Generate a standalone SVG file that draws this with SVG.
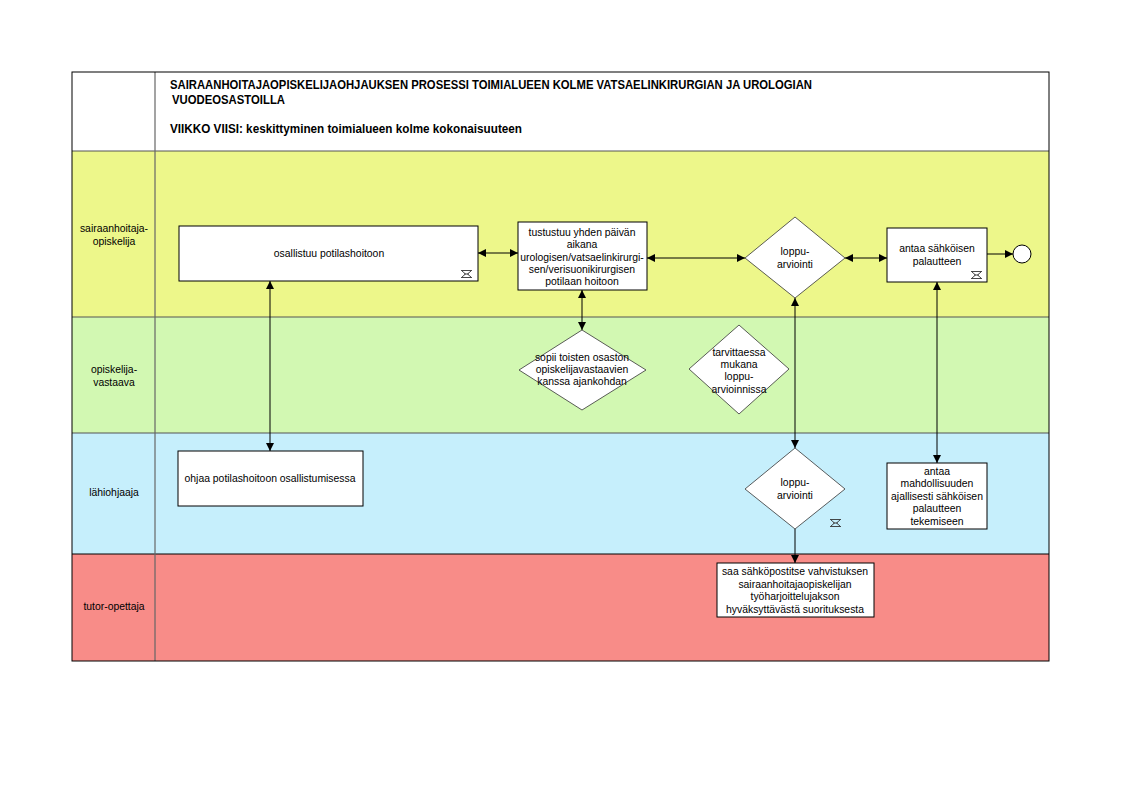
<svg xmlns="http://www.w3.org/2000/svg" xmlns:xlink="http://www.w3.org/1999/xlink" width="1122" height="794" viewBox="0 0 1122 794">
<style>
.t{font-family:"Liberation Sans",Arial,sans-serif;font-size:10.4px;fill:#000;text-anchor:middle}
.h{font-family:"Liberation Sans",Arial,sans-serif;font-size:12px;font-weight:bold;fill:#000}
.box{fill:#fff;stroke:#000;stroke-width:1}
.dia{fill:#fff;stroke:#333;stroke-width:0.8}
.c{stroke:#000;stroke-width:1;fill:none}
.b{marker-start:url(#a);marker-end:url(#a)}
.e{marker-end:url(#a)}
.ic{fill:none;stroke:#333;stroke-width:0.9}
</style>
<defs>
<marker id="a" viewBox="0 0 8 8" refX="8" refY="4" markerWidth="8" markerHeight="8" markerUnits="userSpaceOnUse" orient="auto-start-reverse">
<path d="M0,0 L8,4 L0,8 z" fill="#000"/>
</marker>
<g id="icon">
<path class="ic" d="M0,0.5 h11 M0,7.5 h11 M1,1 L4.5,4 L1,7 M10,1 L6.5,4 L10,7 M3,4 h5"/>
</g>
</defs>
<rect x="0" y="0" width="1122" height="794" fill="#fff"/>
<g id="lanes">
<rect x="72" y="72" width="977" height="79" fill="#fff"/>
<rect x="72" y="151" width="977" height="166" fill="#EDF78A"/>
<rect x="72" y="317" width="977" height="116" fill="#D2F8B2"/>
<rect x="72" y="433" width="977" height="121" fill="#C6EFFC"/>
<rect x="72" y="554" width="977" height="107" fill="#F88C88"/>
<line x1="72" y1="151" x2="1049" y2="151" stroke="#555" stroke-width="1"/>
<line x1="72" y1="317" x2="1049" y2="317" stroke="#555" stroke-width="1"/>
<line x1="72" y1="433" x2="1049" y2="433" stroke="#555" stroke-width="1"/>
<line x1="72" y1="554" x2="1049" y2="554" stroke="#000" stroke-width="1"/>
<line x1="155" y1="72" x2="155" y2="661" stroke="#666" stroke-width="1.2"/>
<rect x="72" y="72" width="977" height="589" fill="none" stroke="#000" stroke-width="1"/>
<text class="t" x="114" y="232">sairaanhoitaja-</text>
<text class="t" x="114" y="245">opiskelija</text>
<text class="t" x="114" y="373">opiskelija-</text>
<text class="t" x="114" y="386">vastaava</text>
<text class="t" x="114" y="496">lähiohjaaja</text>
<text class="t" x="114" y="610">tutor-opettaja</text>
</g>
<g id="title">
<text class="h" x="170" y="89" textLength="642" lengthAdjust="spacingAndGlyphs">SAIRAANHOITAJAOPISKELIJAOHJAUKSEN PROSESSI TOIMIALUEEN KOLME VATSAELINKIRURGIAN JA UROLOGIAN</text>
<text class="h" x="172" y="104" textLength="113" lengthAdjust="spacingAndGlyphs">VUODEOSASTOILLA</text>
<text class="h" x="170" y="133" textLength="352" lengthAdjust="spacingAndGlyphs">VIIKKO VIISI: keskittyminen toimialueen kolme kokonaisuuteen</text>
</g>
<g id="connectors">
<line class="c b" x1="270" y1="281" x2="270" y2="451"/>
<line class="c b" x1="478" y1="253" x2="518" y2="253"/>
<line class="c b" x1="582" y1="290" x2="582" y2="330"/>
<line class="c b" x1="647" y1="258" x2="745" y2="258"/>
<line class="c b" x1="845" y1="258" x2="887" y2="258"/>
<line class="c e" x1="987" y1="254" x2="1013" y2="254"/>
<line class="c b" x1="795" y1="298" x2="795" y2="448"/>
<line class="c b" x1="937" y1="282" x2="937" y2="463"/>
<line class="c e" x1="795" y1="529" x2="795" y2="563"/>
</g>
<g id="n-osallistuu">
<rect class="box" x="179" y="226" width="299" height="55"/>
<text class="t" x="329" y="257">osallistuu potilashoitoon</text>
<use xlink:href="#icon" x="461" y="270"/>
</g>
<g id="n-tustustuu">
<rect class="box" x="518" y="222" width="129" height="68"/>
<text class="t" x="582" y="236">tustustuu yhden päivän</text>
<text class="t" x="582" y="248">aikana</text>
<text class="t" x="582" y="261">urologisen/vatsaelinkirurgi-</text>
<text class="t" x="582" y="273">sen/verisuonikirurgisen</text>
<text class="t" x="582" y="285">potilaan hoitoon</text>
</g>
<g id="n-loppu1">
<polygon class="dia" points="795,217 845,258 795,298 745,258"/>
<text class="t" x="795" y="255">loppu-</text>
<text class="t" x="795" y="268">arviointi</text>
</g>
<g id="n-antaa1">
<rect class="box" x="887" y="228" width="100" height="54"/>
<text class="t" x="937" y="252">antaa sähköisen</text>
<text class="t" x="937" y="265">palautteen</text>
<use xlink:href="#icon" x="971" y="271"/>
</g>
<g id="n-end">
<circle cx="1022" cy="254" r="9" fill="#fff" stroke="#000" stroke-width="1"/>
</g>
<g id="n-sopii">
<polygon class="dia" points="582,330 646,370 582,410 519,370"/>
<text class="t" x="582" y="361">sopii toisten osaston</text>
<text class="t" x="582" y="373">opiskelijavastaavien</text>
<text class="t" x="582" y="385">kanssa ajankohdan</text>
</g>
<g id="n-tarvittaessa">
<polygon class="dia" points="739,325 789,369 739,414 689,369"/>
<text class="t" x="739" y="356">tarvittaessa</text>
<text class="t" x="739" y="368">mukana</text>
<text class="t" x="739" y="380">loppu-</text>
<text class="t" x="739" y="393">arvioinnissa</text>
</g>
<g id="n-ohjaa">
<rect class="box" x="178" y="451" width="185" height="55"/>
<text class="t" x="270" y="482">ohjaa potilashoitoon osallistumisessa</text>
</g>
<g id="n-loppu2">
<polygon class="dia" points="795,448 845,489 795,529 745,489"/>
<text class="t" x="795" y="486">loppu-</text>
<text class="t" x="795" y="499">arviointi</text>
<use xlink:href="#icon" x="830" y="519"/>
</g>
<g id="n-antaa2">
<rect class="box" x="887" y="463" width="100" height="66"/>
<text class="t" x="937" y="475">antaa</text>
<text class="t" x="937" y="487">mahdollisuuden</text>
<text class="t" x="937" y="500">ajallisesti sähköisen</text>
<text class="t" x="937" y="512">palautteen</text>
<text class="t" x="937" y="525">tekemiseen</text>
</g>
<g id="n-saa">
<rect class="box" x="717" y="563" width="157" height="54"/>
<text class="t" x="795" y="575">saa sähköpostitse vahvistuksen</text>
<text class="t" x="795" y="588">sairaanhoitajaopiskelijan</text>
<text class="t" x="795" y="600">työharjoittelujakson</text>
<text class="t" x="795" y="613">hyväksyttävästä suorituksesta</text>
</g>
</svg>
